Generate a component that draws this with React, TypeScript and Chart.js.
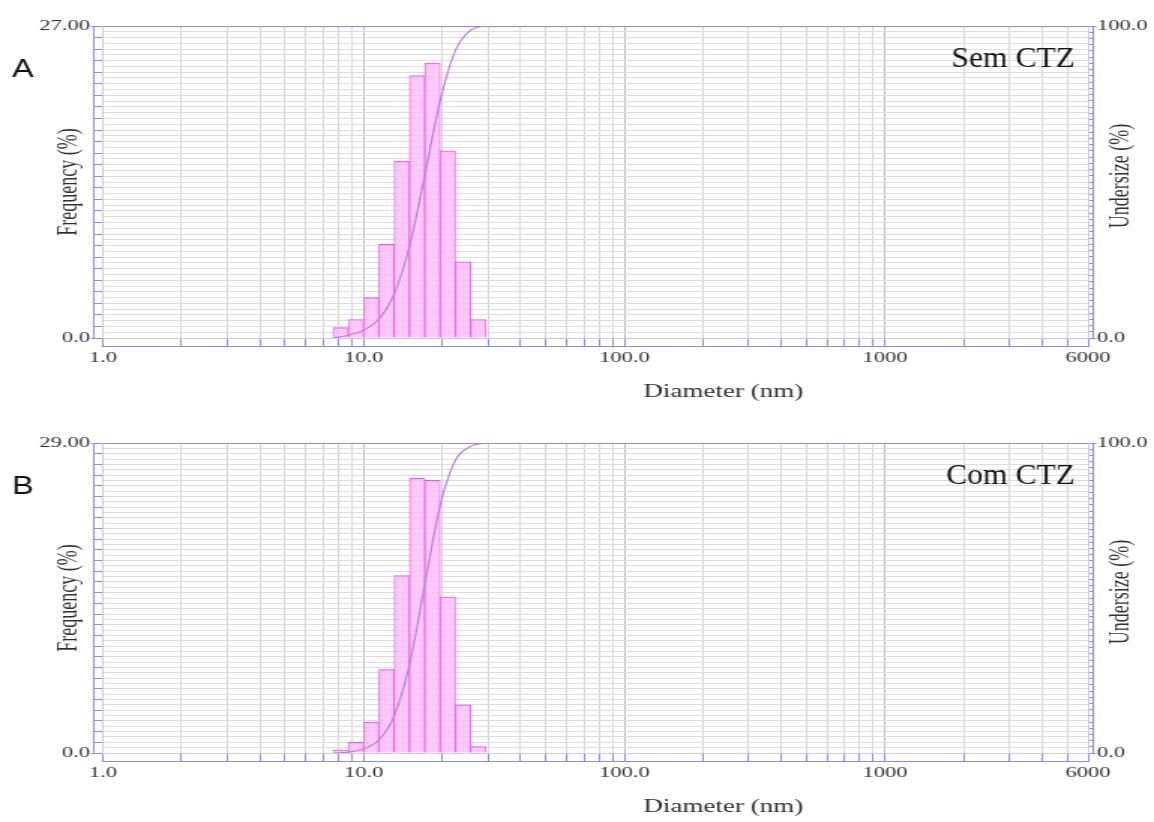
import React, { useEffect, useRef } from "react";
import { Chart, registerables } from "chart.js";

Chart.register(...registerables);

// Size channels (nm): bin edges and geometric bin centres
const binEdges = [7.64, 8.74, 10.0, 11.45, 13.1, 15.0, 17.17, 19.65, 22.49, 25.75, 29.47];
const binCenters = [8.17, 9.35, 10.7, 12.25, 14.02, 16.05, 18.37, 21.02, 24.07, 27.55];

// Sample A (Sem CTZ): frequency per channel and cumulative undersize at the channel edges
const freqA = [0.9, 1.6, 3.5, 8.1, 15.3, 22.7, 23.8, 16.2, 6.6, 1.6];
const undersizeA = [0, 0.9, 2.5, 6.0, 14.1, 29.4, 52.1, 75.9, 92.1, 98.7, 100];

// Sample B (Com CTZ)
const freqB = [0.3, 1.0, 2.9, 7.8, 16.6, 25.7, 25.5, 14.6, 4.5, 0.6];
const undersizeB = [0, 0.3, 1.3, 4.2, 12.0, 28.6, 54.3, 79.8, 94.4, 98.9, 100];

// Axis ticks and their labels
const xTickValues = [1, 10, 100, 1000, 6000];
const xTickLabels = ["1.0", "10.0", "100.0", "1000", "6000"];
const freqTicksA = [0, 27];
const freqTickLabelsA = ["0.0", "27.00"];
const freqTicksB = [0, 29];
const freqTickLabelsB = ["0.0", "29.00"];
const undersizeTicks = [0, 100];
const undersizeTickLabels = ["0.0", "100.0"];

const PAGE_W = 1154;
const CANVAS_W = 769; // drawn narrow, shown wide (instrument-style stretched plot)
const PANEL_H = 411;
const SX = PAGE_W / CANVAS_W;

const SERIF = "'Liberation Serif', 'Times New Roman', serif";
const SANS = "'Liberation Sans', Arial, sans-serif";
const AXIS_BLUE = "rgb(138, 138, 232)";
const FRAME = "rgb(200, 200, 236)";
const TEXT = "#2f2f2f";

type Panel = {
  letter: string;
  sample: string;
  freq: number[];
  undersize: number[];
  freqTicks: number[];
  freqLabels: string[];
  top: number;
  bottomAxisH: number;
};

const panels: Panel[] = [
  { letter: "A", sample: "Sem CTZ", freq: freqA, undersize: undersizeA, freqTicks: freqTicksA, freqLabels: freqTickLabelsA, top: 26, bottomAxisH: 65 },
  { letter: "B", sample: "Com CTZ", freq: freqB, undersize: undersizeB, freqTicks: freqTicksB, freqLabels: freqTickLabelsB, top: 32, bottomAxisH: 61 },
];

// log grid: 1..9 x 10^k inside [min, max]
function logGridTicks(min: number, max: number) {
  const out: { value: number }[] = [];
  for (let d = 1; d <= max; d *= 10) {
    for (let m = 1; m <= 9; m++) {
      const v = m * d;
      if (v >= min && v <= max) out.push({ value: v });
    }
  }
  return out;
}

function stepTicks(max: number, step: number) {
  const out: { value: number }[] = [];
  const n = Math.round(max / step);
  for (let i = 0; i <= n; i++) out.push({ value: i * step });
  return out;
}

const isDecade = (v: number) => v > 0 && Math.abs(Math.log10(v) - Math.round(Math.log10(v))) < 1e-9;

const panelText = (p: Panel) => ({
  id: "panelText",
  afterDraw(chart: any) {
    const { ctx, chartArea } = chart;
    const yrl = chart.scales.yrl;
    const midY = (chartArea.top + chartArea.bottom) / 2;
    ctx.save();
    ctx.fillStyle = TEXT;
    ctx.font = `18px ${SERIF}`;
    ctx.textAlign = "center";
    ctx.textBaseline = "middle";

    // right axis title, reading upwards
    ctx.save();
    ctx.translate(yrl.right - 21.4, midY - 6);
    ctx.rotate(-Math.PI / 2);
    ctx.fillText("Undersize (%)", 0, 0);
    ctx.restore();

    // x axis title
    ctx.fillText("Diameter (nm)", chartArea.left + chartArea.width * 0.63, chartArea.bottom + 54);

    // sample name inside the plot
    ctx.save();
    ctx.translate(chartArea.right - 8.7, chartArea.top + 41);
    ctx.scale(1.05 / SX, 1);
    ctx.font = `30px ${SERIF}`;
    ctx.fillStyle = "#111";
    ctx.textAlign = "right";
    ctx.textBaseline = "alphabetic";
    ctx.fillText(p.sample, 0, 0);
    ctx.restore();

    // panel letter
    ctx.save();
    ctx.translate(15.3, chartArea.top + 44);
    ctx.scale(1.3 / SX, 1);
    ctx.font = `25px ${SANS}`;
    ctx.fillStyle = "#111";
    ctx.textAlign = "center";
    ctx.textBaseline = "middle";
    ctx.fillText(p.letter, 0, 0);
    ctx.restore();

    ctx.restore();
  },
});

function buildConfig(p: Panel) {
  const tickFont = { family: SERIF, size: 15 };
  const freqMax = p.freqTicks[p.freqTicks.length - 1];
  const undersizeMax = undersizeTicks[undersizeTicks.length - 1];
  const xMin = xTickValues[0];
  const xMax = xTickValues[xTickValues.length - 1];

  return {
    type: "line",
    data: {
      datasets: [
        {
          type: "line",
          label: "Undersize (%)",
          data: binEdges.map((x, i) => ({ x, y: p.undersize[i] })),
          xAxisID: "x",
          yAxisID: "yr",
          borderColor: "rgb(186, 130, 218)",
          borderWidth: 1.2,
          pointRadius: 0,
          cubicInterpolationMode: "monotone",
          fill: false,
          order: 0,
        },
        {
          type: "bar",
          label: "Frequency (%)",
          data: binCenters.map((x, i) => ({ x, y: p.freq[i] })),
          xAxisID: "x",
          yAxisID: "y",
          backgroundColor: "rgba(255, 188, 250, 0.82)",
          borderColor: "rgb(226, 92, 226)",
          borderWidth: { top: 1, left: 0.7, right: 0.7, bottom: 0 },
          borderSkipped: false,
          barThickness: "flex",
          categoryPercentage: 1,
          barPercentage: 1,
          order: 1,
        },
      ],
    },
    options: {
      responsive: false,
      animation: false,
      devicePixelRatio: 1,
      layout: { padding: { top: p.top, left: 0, right: 0, bottom: 0 } },
      plugins: {
        legend: { display: false },
        tooltip: { enabled: false },
        title: { display: false },
      },
      scales: {
        // grid and minor tick marks along the diameter axis
        xg: {
          type: "logarithmic",
          position: "bottom",
          weight: 0,
          min: xMin,
          max: xMax,
          offset: false,
          afterBuildTicks: (s: any) => {
            s.ticks = logGridTicks(xMin, xMax);
          },
          ticks: { display: false },
          grid: {
            offset: false,
            color: (c: any) => (c.tick && isDecade(c.tick.value) ? "#b9b9b9" : "#d6d6d6"),
            tickColor: AXIS_BLUE,
            tickLength: 8,
            drawTicks: true,
          },
          border: { display: true, color: FRAME },
          afterFit: (s: any) => {
            s.height = 8;
          },
        },
        // labelled diameter axis
        x: {
          type: "logarithmic",
          position: "bottom",
          weight: 1,
          min: xMin,
          max: xMax,
          offset: false,
          afterBuildTicks: (s: any) => {
            s.ticks = xTickValues.map((value) => ({ value }));
          },
          ticks: {
            autoSkip: false,
            maxRotation: 0,
            minRotation: 0,
            padding: 3,
            font: tickFont,
            color: TEXT,
            callback: (_v: any, i: number) => xTickLabels[i],
          },
          grid: { display: false, drawTicks: false, offset: false },
          border: { display: true, color: AXIS_BLUE },
          afterFit: (s: any) => {
            s.height = p.bottomAxisH;
          },
        },
        // top frame line
        xt: {
          type: "linear",
          position: "top",
          min: 0,
          max: 1,
          offset: false,
          ticks: { display: false },
          grid: { display: false, drawTicks: false, offset: false },
          border: { display: true, color: AXIS_BLUE },
          afterFit: (s: any) => {
            s.height = 0;
          },
        },
        // frequency grid + tick marks (carries the bars)
        y: {
          type: "linear",
          position: "left",
          weight: 0,
          min: 0,
          max: freqMax,
          afterBuildTicks: (s: any) => {
            s.ticks = stepTicks(freqMax, 0.5);
          },
          ticks: { display: false },
          grid: {
            color: "#dddddd",
            tickColor: (c: any) =>
              c.tick && Math.abs(c.tick.value - Math.round(c.tick.value)) < 1e-9 ? AXIS_BLUE : "rgba(0,0,0,0)",
            tickLength: 6,
            drawTicks: true,
          },
          border: { display: true, color: FRAME },
          afterFit: (s: any) => {
            s.width = 6;
          },
        },
        // labelled frequency axis
        yl: {
          type: "linear",
          position: "left",
          weight: 1,
          min: 0,
          max: freqMax,
          afterBuildTicks: (s: any) => {
            s.ticks = p.freqTicks.map((value) => ({ value }));
          },
          ticks: {
            autoSkip: false,
            padding: 0.5,
            font: tickFont,
            color: TEXT,
            callback: (_v: any, i: number) => p.freqLabels[i],
          },
          grid: { display: true, drawOnChartArea: false, drawTicks: true, tickLength: 2, tickColor: AXIS_BLUE },
          border: { display: true, color: AXIS_BLUE },
          title: {
            display: true,
            text: "Frequency (%)",
            font: { family: SERIF, size: 18 },
            color: TEXT,
            padding: { top: 35.8, bottom: 0 },
          },
          afterFit: (s: any) => {
            s.width = 62.5;
          },
        },
        // undersize tick marks (carries the cumulative curve)
        yr: {
          type: "linear",
          position: "right",
          weight: 0,
          min: 0,
          max: undersizeMax,
          afterBuildTicks: (s: any) => {
            s.ticks = stepTicks(undersizeMax, 2);
          },
          ticks: { display: false },
          grid: { display: true, drawOnChartArea: false, drawTicks: true, tickLength: 3.5, tickColor: AXIS_BLUE },
          border: { display: true, color: FRAME },
          afterFit: (s: any) => {
            s.width = 3.5;
          },
        },
        // labelled undersize axis
        yrl: {
          type: "linear",
          position: "right",
          weight: 1,
          min: 0,
          max: undersizeMax,
          afterBuildTicks: (s: any) => {
            s.ticks = undersizeTicks.map((value) => ({ value }));
          },
          ticks: {
            autoSkip: false,
            padding: 0.5,
            font: tickFont,
            color: TEXT,
            callback: (_v: any, i: number) => undersizeTickLabels[i],
          },
          grid: { display: true, drawOnChartArea: false, drawTicks: true, tickLength: 2, tickColor: AXIS_BLUE },
          border: { display: true, color: AXIS_BLUE },
          afterFit: (s: any) => {
            s.width = CANVAS_W - 728.5;
          },
        },
      },
    },
    plugins: [panelText(p)],
  };
}

function PanelChart({ panel }: { panel: Panel }) {
  const ref = useRef<HTMLCanvasElement>(null);
  useEffect(() => {
    if (!ref.current) return;
    const chart = new Chart(ref.current, buildConfig(panel) as any);
    return () => chart.destroy();
  }, [panel]);
  return (
    <canvas
      ref={ref}
      width={CANVAS_W}
      height={PANEL_H}
      style={{ display: "block", width: PAGE_W, height: PANEL_H }}
    />
  );
}

export default function App() {
  return (
    <div
      style={{
        position: "absolute",
        left: 0,
        top: 0,
        width: PAGE_W,
        height: PANEL_H * 2,
        background: "#ffffff",
        overflow: "hidden",
      }}
    >
      {panels.map((p) => (
        <PanelChart key={p.letter} panel={p} />
      ))}
    </div>
  );
}
